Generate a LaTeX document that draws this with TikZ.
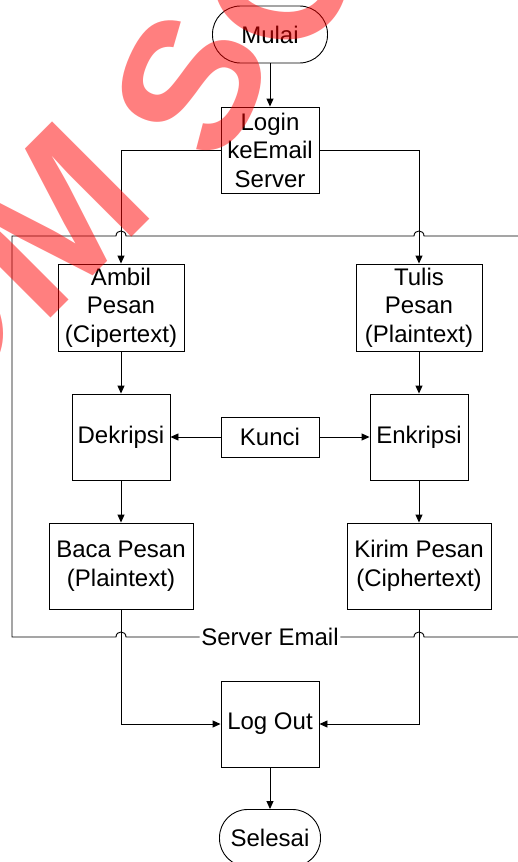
\documentclass[tikz,border=0pt]{standalone}
\usepackage{fontspec}
\setmainfont{Liberation Sans}
\usetikzlibrary{arrows.meta}
\newcommand\diagfont{\fontsize{24}{28.5}\selectfont}
\newcommand\wmfont{\fontsize{200}{200}\selectfont\bfseries}
\newcommand\wmfontS{\fontsize{190}{190}\selectfont\bfseries}
\begin{document}
\begin{tikzpicture}[x=1pt,y=-1pt,
  box/.style={draw=black, line width=0.9pt, inner sep=0pt, align=center, font=\diagfont},
  term/.style={box, rounded corners=28pt},
  arr/.style={-{Triangle[length=8pt,width=7pt]}, line width=0.9pt},
  frame/.style={line width=0.9pt},
  wm/.style={text=red, text opacity=0.5, font=\wmfont, inner sep=0pt}]
\useasboundingbox (0,0) rectangle (517,862);

\node[term, minimum width=115pt, minimum height=57pt] (mulai) at (270,34.5) {Mulai};
\node[box, minimum width=98pt, minimum height=86pt] (login) at (270,150) {Login\\keEmail\\Server};
\node[box, minimum width=126pt, minimum height=87pt] (ambil) at (121,307.5) {Ambil\\Pesan\\(Cipertext)};
\node[box, minimum width=126pt, minimum height=87pt] (tulis) at (419,307.5) {Tulis\\Pesan\\(Plaintext)};
\node[box, minimum width=98pt, minimum height=86pt] (dek) at (121,437) {Dekripsi};
\node[box, minimum width=98pt, minimum height=40pt] (kunci) at (270,437) {Kunci};
\node[box, minimum width=98pt, minimum height=86pt] (enk) at (419,437) {Enkripsi};
\node[box, minimum width=144pt, minimum height=86pt] (baca) at (121,566) {Baca Pesan\\(Plaintext)};
\node[box, minimum width=144pt, minimum height=86pt] (kirim) at (419,566) {Kirim Pesan\\(Ciphertext)};
\node[box, minimum width=98pt, minimum height=86pt] (logout) at (270,724) {Log Out};
\node[term, minimum width=101pt, minimum height=57pt] (selesai) at (270,838) {Selesai};
\node[inner sep=1.5pt, font=\diagfont] (srv) at (270,637) {Server Email};

% frame (Server Email)
\draw[frame] (srv.west) -- (126,637) .. controls (126,630.3) and (116,630.3) .. (116,637)
  -- (12,637) -- (12,236) -- (116,236) .. controls (116,229.3) and (126,229.3) .. (126,236)
  -- (414,236) .. controls (414,229.3) and (424,229.3) .. (424,236) -- (518,236);
\draw[frame] (srv.east) -- (414,637) .. controls (414,630.3) and (424,630.3) .. (424,637) -- (518,637);

% connectors
\draw[arr] (mulai) -- (login);
\draw[arr] (login.west) -| (ambil.north);
\draw[arr] (login.east) -| (tulis.north);
\draw[arr] (ambil) -- (dek);
\draw[arr] (tulis) -- (enk);
\draw[arr] (kunci) -- (dek);
\draw[arr] (kunci) -- (enk);
\draw[arr] (dek) -- (baca);
\draw[arr] (enk) -- (kirim);
\draw[arr] (baca.south) |- (logout.west);
\draw[arr] (kirim.south) |- (logout.east);
\draw[arr] (logout) -- (selesai);

% watermark
\node[wm, rotate=32] (wmo) at (-68,330) {O};
\node[wm, rotate=45] (wmm) at (52,220) {M};
\node[wm, font=\wmfontS, rotate=66] (wms) at (192,84) {S};
\node[wm, font=\wmfontS, rotate=80] (wmo2) at (282,-27) {O};
\end{tikzpicture}
\end{document}
